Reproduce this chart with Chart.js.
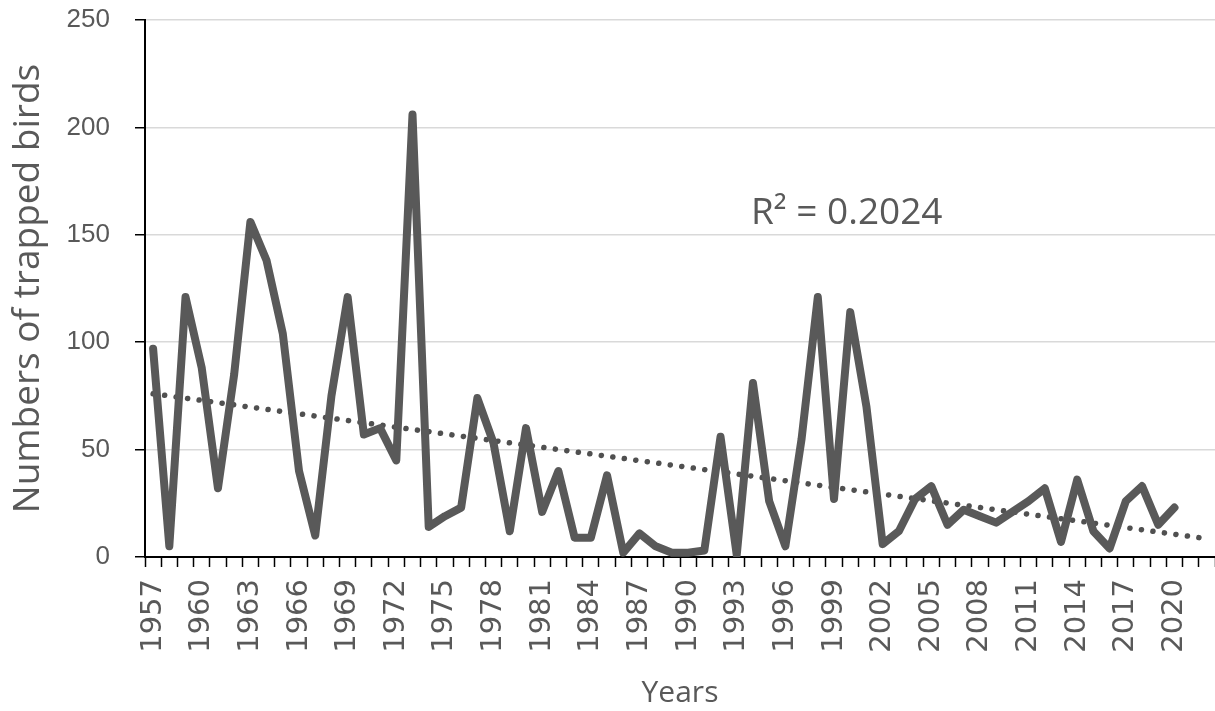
<!DOCTYPE html>
<html>
<head>
<meta charset="utf-8">
<script src="https://cdn.jsdelivr.net/npm/chart.js@4.4.1/dist/chart.umd.min.js"></script>
<style>
  html, body { margin: 0; padding: 0; background: #fff; }
  #wrap { width: 1215px; height: 711px; }
</style>
</head>
<body>
<div id="wrap"><canvas id="chart" width="1215" height="711"></canvas></div>
<script>
// --- datos ---
const years = ['1957','1958','1959','1960','1961','1962','1963','1964','1965','1966',
  '1967','1968','1969','1970','1971','1972','1973','1974','1975','1976',
  '1977','1978','1979','1980','1981','1982','1983','1984','1985','1986',
  '1987','1988','1989','1990','1991','1992','1993','1994','1995','1996',
  '1997','1998','1999','2000','2001','2002','2003','2004','2005','2006',
  '2007','2008','2009','2010','2011','2012','2013','2014','2015','2016',
  '2017','2018','2019','2020','2021','2022'];

const trappedBirds = [97, 5, 121, 88, 32, 85, 156, 138, 104, 40,
  10, 75, 121, 57, 60, 45, 206, 14, 19, 23,
  74, 53, 12, 60, 21, 40, 9, 9, 38, 2,
  11, 5, 2, 2, 3, 56, 1, 81, 26, 5,
  55, 121, 27, 114, 70, 6, 12, 27, 33, 15,
  22, 19, 16, 21, 26, 32, 7, 36, 12, 4,
  26, 33, 15, 23];

const trendPoints = [{ x: '1957', y: 76 }, { x: '2022', y: 8.5 }];

const yTicks = [0, 50, 100, 150, 200, 250];
const r2Label = 'R² = 0.2024';

const GREY = '#595959';

const r2Plugin = {
  id: 'r2Label',
  afterDatasetsDraw(chart) {
    const { ctx, scales } = chart;
    ctx.save();
    ctx.font = '37px "Open Sans"';
    ctx.fillStyle = GREY;
    ctx.textAlign = 'left';
    ctx.textBaseline = 'middle';
    ctx.fillText(r2Label, scales.x.getPixelForValue(37) - 2, scales.y.getPixelForValue(160));
    ctx.restore();
  }
};

new Chart(document.getElementById('chart').getContext('2d'), {
  type: 'line',
  data: {
    labels: years,
    datasets: [
      {
        label: 'Trapped birds',
        data: trappedBirds,
        borderColor: GREY,
        borderWidth: 8,
        borderJoinStyle: 'round',
        borderCapStyle: 'round',
        pointRadius: 0,
        tension: 0,
        order: 1
      },
      {
        label: 'Trend',
        data: trendPoints,
        borderColor: '#505050',
        borderWidth: 5.5,
        borderDash: [0.1, 11.5],
        borderCapStyle: 'round',
        pointRadius: 0,
        tension: 0,
        order: 2
      }
    ]
  },
  options: {
    responsive: false,
    animation: false,
    layout: { padding: { top: 20, right: 0, left: 0, bottom: 0 } },
    plugins: {
      legend: { display: false },
      tooltip: { enabled: false }
    },
    scales: {
      x: {
        type: 'category',
        offset: true,
        afterFit: (s) => {
          s.height = 154;
          s.paddingLeft = 0;
          s.paddingRight = 0;
        },
        grid: {
          offset: true,
          drawOnChartArea: false,
          drawTicks: true,
          tickLength: 10,
          tickColor: '#000',
          tickWidth: 1.5
        },
        border: { color: '#000', width: 2 },
        ticks: {
          autoSkip: false,
          minRotation: 90,
          maxRotation: 90,
          padding: 12,
          color: GREY,
          font: { family: '"DejaVu Sans"', size: 29 },
          callback: function(value, index) {
            return index % 3 === 0 ? this.getLabelForValue(value) : '';
          }
        },
        title: {
          display: true,
          text: 'Years',
          color: GREY,
          font: { family: '"Open Sans"', size: 30 },
          padding: { top: 0, bottom: 0 }
        }
      },
      y: {
        min: 0,
        max: 250,
        afterFit: (s) => {
          s.width = 145;
          s.paddingTop = 0;
          s.paddingBottom = 0;
        },
        afterBuildTicks: (s) => { s.ticks = yTicks.map(v => ({ value: v })); },
        grid: {
          color: '#d9d9d9',
          lineWidth: 1.5,
          tickLength: 10,
          tickColor: '#000',
          tickWidth: 1.5
        },
        border: { color: '#000', width: 2 },
        ticks: {
          padding: 25,
          color: GREY,
          font: { family: '"Liberation Sans"', size: 26 }
        },
        title: {
          display: true,
          text: 'Numbers of trapped birds',
          color: GREY,
          font: { family: '"Open Sans"', size: 37 },
          padding: { top: 6, bottom: 0 }
        }
      }
    }
  },
  plugins: [r2Plugin]
});
</script>
</body>
</html>
